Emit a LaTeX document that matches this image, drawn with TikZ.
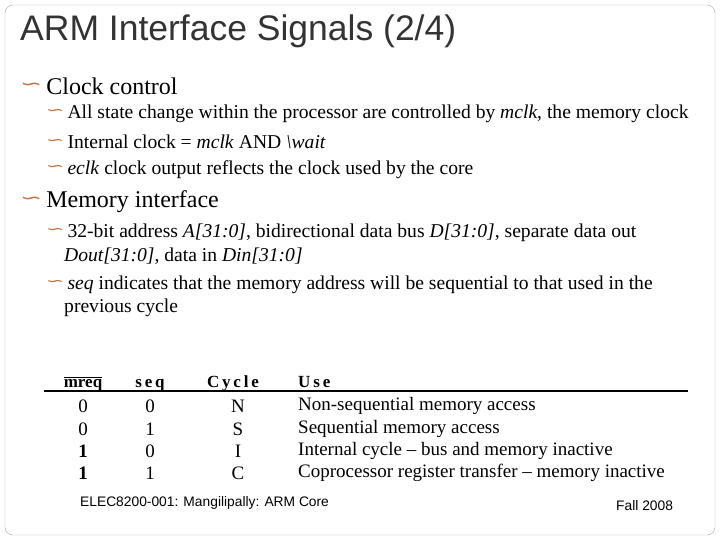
\documentclass[tikz,border=0pt]{standalone}
\usepackage{fontspec}
\setmainfont{Liberation Serif}
\setsansfont{Liberation Sans}
\newfontfamily\dv{DejaVu Sans}
\definecolor{bul}{RGB}{190,120,70}
\newcommand{\bu}{{\dv\color{bul}\raisebox{0.15em}{\scalebox{1.1}[0.8]{∽}}}\,}
\begin{document}
\begin{tikzpicture}[x=1pt,y=-1pt,
  t/.style={anchor=west,inner sep=0pt},
  l1/.style={t,font=\fontsize{24}{26}\selectfont},
  l2/.style={t,font=\fontsize{19.6}{22}\selectfont},
  tb/.style={inner sep=0pt,font=\fontsize{19}{21}\selectfont},
  th/.style={tb,anchor=base,font=\fontsize{17}{19}\selectfont\bfseries}]
\useasboundingbox (0,0) rectangle (720,540);
\draw[rounded corners=8pt,gray!70] (5,5) rectangle (715,535);
\node[t,font=\sffamily\fontsize{35.5}{38}\selectfont,text=black!80] (title) at (20,31) {ARM Interface Signals (2/4)};
\node[l1] (a) at (20,86) {\bu Clock control};
\node[l2] (a1) at (46,114) {\bu All state change within the processor are controlled by \textit{mclk}, the memory clock};
\node[l2] (a2) at (46,142) {\bu Internal clock = \textit{mclk} AND \textit{\textbackslash wait}};
\node[l2] (a3) at (46,170) {\bu \textit{eclk} clock output reflects the clock used by the core};
\node[l1] (b) at (20,202) {\bu Memory interface};
\node[l2] (b1) at (46,233) {\bu 32-bit address \textit{A[31:0]}, bidirectional data bus \textit{D[31:0]}, separate data out};
\node[l2] (b1c) at (64,256) {\textit{Dout[31:0]}, data in \textit{Din[31:0]}};
\node[l2] (b2) at (46,285) {\bu \textit{seq} indicates that the memory address will be sequential to that used in the};
\node[l2] (b2c) at (64,308) {previous cycle};
\node[th] (h1) at (83,387) {$\overline{\mbox{mreq}}$};
\node[th] (h2) at (150,387) {s\,e\,q};
\node[th] (h3) at (233,387) {C\,y\,c\,l\,e};
\node[th,anchor=base west] (h4) at (298,387) {U\,s\,e};
\draw[line width=2.5pt] (44,391) -- (688,391);
\foreach \y/\m/\s/\c/\u in {406/0/0/N/Non-sequential memory access,429/0/1/S/Sequential memory access,451/\textbf{1}/0/I/Internal cycle -- bus and memory inactive,473/\textbf{1}/1/C/Coprocessor register transfer -- memory inactive}{
  \node[tb] at (83,\y) {\m};
  \node[tb] at (150,\y) {\s};
  \node[tb] at (238,\y) {\c};
  \node[tb,anchor=west] at (298,\y) {\u};
}
\node[t,font=\sffamily\fontsize{13.8}{15}\selectfont] (f1) at (80,503) {ELEC8200-001: Mangilipally: ARM Core};
\node[t,font=\sffamily\fontsize{13.8}{15}\selectfont] (f2) at (616,506) {Fall 2008};
\end{tikzpicture}
\end{document}
